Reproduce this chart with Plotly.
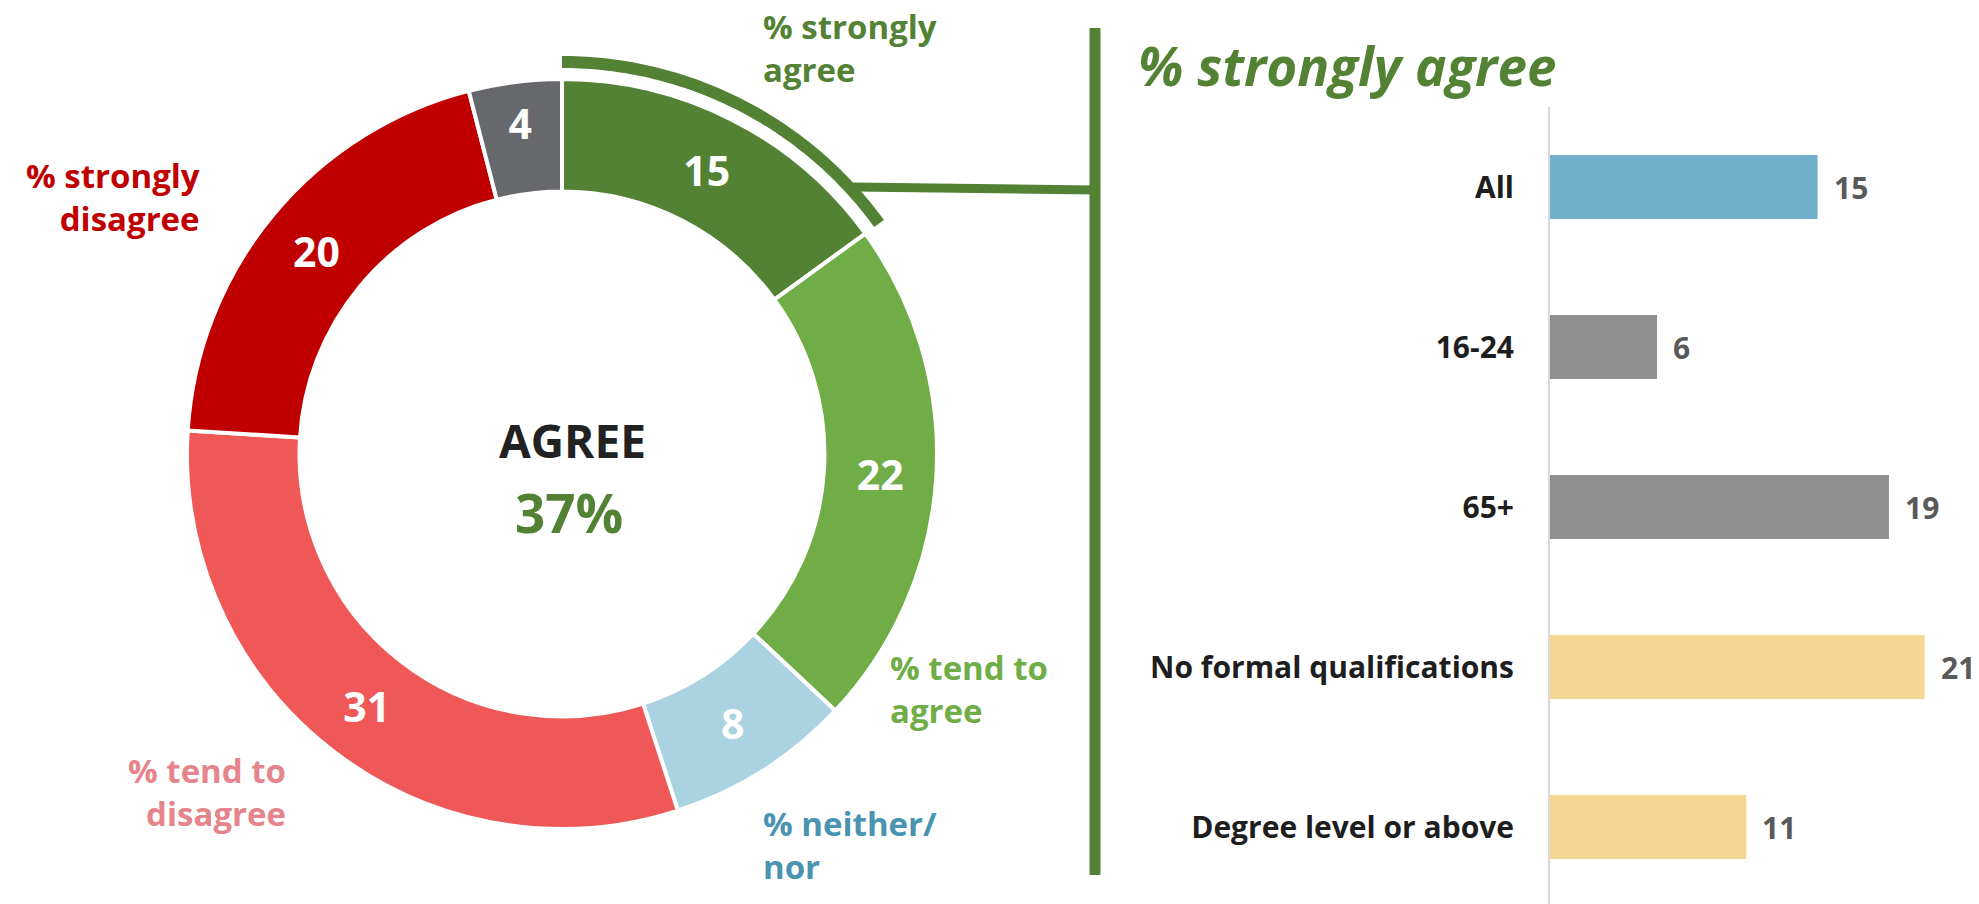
import numpy as np
import plotly.graph_objects as go

# ---------------- data ----------------
donut_labels = ["% strongly agree", "% tend to agree", "% neither/ nor",
                "% tend to disagree", "% strongly disagree", "Don't know"]
donut_values = [15, 22, 8, 31, 20, 4]
donut_colors = ["#548235", "#70AD47", "#ABD2E0", "#F05858", "#C00000", "#67686B"]

bar_categories = ["All", "16-24", "65+", "No formal qualifications", "Degree level or above"]
bar_values = [15, 6, 19, 21, 11]
bar_colors = ["#71B0CA", "#8F8F90", "#8F8F90", "#F5D791", "#F5D791"]

center_title = "AGREE"
agree_total = donut_values[0] + donut_values[1]
panel_title = "% strongly agree"

FONT = "Open Sans"
W, H = 1979, 904

def px(x):
    return x / W

def py(y):
    return 1 - y / H

# donut geometry (pixels)
cx, cy, R = 562, 454, 375

fig = go.Figure()

fig.add_trace(go.Pie(
    labels=donut_labels, values=donut_values, sort=False,
    direction="clockwise", rotation=0, hole=0.70,
    marker=dict(colors=donut_colors, line=dict(color="white", width=4)),
    textinfo="value", textposition="inside", insidetextorientation="horizontal",
    textfont=dict(family=FONT, size=41, color="white", weight="bold"),
    domain=dict(x=[px(cx - R), px(cx + R)], y=[py(cy + R), py(cy - R)]),
    showlegend=False, hoverinfo="label+value",
))

fig.add_trace(go.Bar(
    y=bar_categories, x=bar_values, orientation="h",
    marker=dict(color=bar_colors, line=dict(width=0)), width=0.4,
    showlegend=False, hoverinfo="y+x",
))

# value labels next to bars
for cat, v in zip(bar_categories, bar_values):
    fig.add_annotation(x=v, y=cat, xref="x", yref="y", text=str(v),
                       xanchor="left", yanchor="middle", xshift=14, showarrow=False,
                       font=dict(family=FONT, size=30, color="#595959", weight="bold"))

# outer highlight arc of the first slice
span = 2 * np.pi * donut_values[0] / sum(donut_values)
t = np.linspace(0, span, 80)
r_in, r_out = 386, 398
xo, yo = cx + r_out * np.sin(t), cy - r_out * np.cos(t)
xi, yi = cx + r_in * np.sin(t[::-1]), cy - r_in * np.cos(t[::-1])
pts = [(px(a), py(b)) for a, b in zip(np.r_[xo, xi], np.r_[yo, yi])]
path = "M " + " L ".join(f"{a:.5f},{b:.5f}" for a, b in pts) + " Z"
fig.add_shape(type="path", path=path, xref="paper", yref="paper",
              fillcolor="#548235", line=dict(width=0), layer="above")

# connector to the right panel
ly = 187
lx0 = cx + np.sqrt(r_out**2 - (cy - ly)**2)
fig.add_shape(type="line", xref="paper", yref="paper",
              x0=px(lx0 - 4), y0=py(ly), x1=px(1095), y1=py(ly + 3),
              line=dict(color="#548235", width=9))
fig.add_shape(type="line", xref="paper", yref="paper",
              x0=px(1095), y0=py(28), x1=px(1095), y1=py(875),
              line=dict(color="#548235", width=11))

# centre text
fig.add_annotation(x=px(572), y=py(440), xref="paper", yref="paper",
                   text=center_title, showarrow=False, xanchor="center", yanchor="middle",
                   font=dict(family=FONT, size=46, color="#222222", weight="bold"))
fig.add_annotation(x=px(569), y=py(512), xref="paper", yref="paper",
                   text=f"{agree_total}%", showarrow=False, xanchor="center", yanchor="middle",
                   font=dict(family=FONT, size=53, color="#548235", weight="bold"))

# outside category labels for the donut
lab_font = 33
outside = [
    ("% strongly<br>agree", 761, 48, "left", "#548235"),
    ("% tend to<br>agree", 888, 689, "left", "#70AD47"),
    ("% neither/<br>nor", 761, 845, "left", "#4A93B1"),
    ("% tend to<br>disagree", 288, 792, "right", "#E6848C"),
    ("% strongly<br>disagree", 202, 197, "right", "#C00000"),
]
for txt, x, y, anc, col in outside:
    fig.add_annotation(x=px(x), y=py(y), xref="paper", yref="paper", text=txt,
                       xanchor=anc, yanchor="middle", align=anc, showarrow=False,
                       font=dict(family=FONT, size=lab_font, color=col, weight="bold"))

# panel title
fig.add_annotation(x=px(1136), y=py(66), xref="paper", yref="paper",
                   text=f"<i>{panel_title}</i>", xanchor="left", yanchor="middle",
                   showarrow=False,
                   font=dict(family=FONT, size=53, color="#548235", weight="bold"))

x0px = 1550
unit = 17.84
fig.update_layout(
    width=W, height=H, margin=dict(l=0, r=0, t=0, b=0),
    paper_bgcolor="white", plot_bgcolor="white",
    xaxis=dict(domain=[px(x0px), 1], range=[0, (W - x0px) / unit], visible=False,
               fixedrange=True),
    yaxis=dict(domain=[0, py(107)], categoryorder="array", categoryarray=bar_categories,
               range=[-0.5 + 797 / 160, -0.5], showgrid=False, zeroline=False,
               showline=True, linecolor="#D9D9D9", linewidth=2, ticks="",
               ticklabelstandoff=28,
               tickfont=dict(family=FONT, size=30, color="#1E1E1E", weight="bold")),
    font=dict(family=FONT),
)

fig.write_html("out.html", config={"displayModeBar": False},
               post_script="document.body.style.margin='0';")
